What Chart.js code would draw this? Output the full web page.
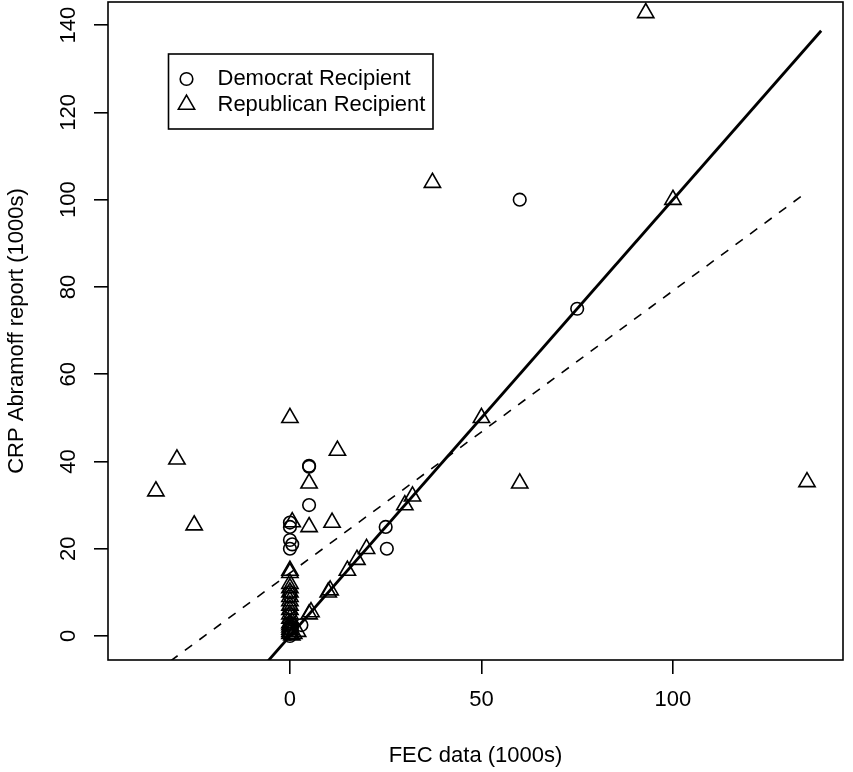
<!DOCTYPE html>
<html><head><meta charset="utf-8">
<script src="https://cdn.jsdelivr.net/npm/chart.js@4.4.0/dist/chart.umd.min.js"></script>
<style>html,body{margin:0;padding:0;background:#fff;}#wrap{width:853px;height:772px;}</style>
</head><body><div id="wrap"><canvas id="c" width="853" height="772"></canvas></div>
<script>
// ---- data ----
const demX = [60, 75, 25, 25.3, 5, 5, 5, 0, 0, 0, 0.6, 0, 0, 0, 0, 0, 0, 0, 0, 0.5, 3, 0];
const demY = [100, 75, 25, 20, 39, 38.8, 30, 26, 25, 22, 21, 20, 9, 6.5, 5, 3, 1.5, 0.5, 10, 2, 2.5, 0];
const repX = [-35, -29.5, -25, 92.9, 37.2, 100, 135, 50, 60, 32, 30, 20, 17.5, 15, 10, 10.5, 5, 5.5, 0, 12.4, 5, 5, 11, 0.6,
  0, 0, 0, 0, 0, 0, 0, 0, 0, 0, 0, 0, 0, 0, 0, 0, 0, 0.5, 1, 2];
const repY = [33.2, 40.5, 25.4, 142.8, 103.9, 100, 35.3, 50, 35, 32, 30, 20, 17.5, 15, 10, 10.5, 5, 5.5, 50, 42.5, 35, 25, 26, 26.1,
  15, 14.5, 12, 11, 10, 9, 8, 7, 6, 5, 4, 3, 2.5, 2, 1.5, 1, 0.5, 0.2, 0.5, 1];
const solidX = [-10, 138.7];
const solidY = [-10, 138.7];
const dashX = [-35, 134];
const dashY = [-8.2, 101.1];
const xTicks = [0, 50, 100];
const yTicks = [0, 20, 40, 60, 80, 100, 120, 140];
const legendLabels = ['Democrat Recipient', 'Republican Recipient'];
const xTitle = 'FEC data (1000s)';
const yTitle = 'CRP Abramoff report (1000s)';

// ---- styles ----
const FAM = "'Liberation Sans', Arial, Helvetica, sans-serif";
const FONT = {family: FAM, size: 22};
const LW = 1.6;
const pts = (xs, ys) => xs.map((x, i) => ({x: x, y: ys[i]}));

const boxPlugin = {
  id: 'rbox',
  afterDatasetsDraw(chart) {
    const a = chart.chartArea, c = chart.ctx;
    c.save();
    c.strokeStyle = '#000'; c.lineWidth = LW;
    c.strokeRect(a.left, a.top, a.right - a.left, a.bottom - a.top);
    // legend
    const bx = a.left + 60.5, by = a.top + 52, bw = 264.5, bh = 75;
    c.strokeRect(bx, by, bw, bh);
    const rows = [by + 25, by + 50.5];
    c.beginPath(); c.arc(bx + 18, rows[0], 6.3, 0, Math.PI * 2); c.stroke();
    const r = 9.4, tx = bx + 18, ty = rows[1];
    c.beginPath();
    c.moveTo(tx, ty - r);
    c.lineTo(tx + r * Math.sin(2 * Math.PI / 3), ty - r * Math.cos(2 * Math.PI / 3));
    c.lineTo(tx + r * Math.sin(4 * Math.PI / 3), ty - r * Math.cos(4 * Math.PI / 3));
    c.closePath(); c.stroke();
    c.fillStyle = '#000';
    c.font = '22px ' + FAM;
    c.textAlign = 'left'; c.textBaseline = 'middle';
    c.fillText(legendLabels[0], bx + 49, rows[0]);
    c.fillText(legendLabels[1], bx + 49, rows[1]);
    c.restore();
  }
};

new Chart(document.getElementById('c'), {
  type: 'scatter',
  data: {
    datasets: [
      {label: legendLabels[0], data: pts(demX, demY), pointStyle: 'circle', pointRadius: 6.3,
        borderColor: '#000', backgroundColor: 'rgba(0,0,0,0)', borderWidth: LW, pointBorderWidth: LW},
      {label: legendLabels[1], data: pts(repX, repY), pointStyle: 'triangle', pointRadius: 9.4,
        borderColor: '#000', backgroundColor: 'rgba(0,0,0,0)', borderWidth: LW, pointBorderWidth: LW},
      {type: 'line', label: 'fit1', data: pts(solidX, solidY), borderColor: '#000', borderWidth: 2.8,
        pointRadius: 0, fill: false, tension: 0},
      {type: 'line', label: 'fit2', data: pts(dashX, dashY), borderColor: '#000', borderWidth: LW,
        borderDash: [9, 9], pointRadius: 0, fill: false, tension: 0}
    ]
  },
  options: {
    responsive: false, animation: false, events: [],
    layout: {autoPadding: false, padding: {top: 2, right: 10, left: 0, bottom: 0}},
    plugins: {legend: {display: false}, tooltip: {enabled: false}},
    scales: {
      x: {
        type: 'linear', min: -47.5, max: 144.4,
        afterBuildTicks: s => { s.ticks = xTicks.map(v => ({value: v})); },
        afterFit: s => { s.height = 112; s.paddingLeft = 0; s.paddingRight = 0; },
        grid: {drawOnChartArea: false, drawTicks: true, tickLength: 14, color: '#000', lineWidth: LW},
        border: {display: false},
        ticks: {color: '#000', font: FONT, padding: 13, maxRotation: 0, minRotation: 0, autoSkip: false},
        title: {display: true, text: xTitle, color: '#000', font: FONT, padding: {top: 0, bottom: 3}}
      },
      y: {
        type: 'linear', min: -5.5, max: 145.3,
        afterBuildTicks: s => { s.ticks = yTicks.map(v => ({value: v})); },
        afterFit: s => { s.width = 108; s.paddingTop = 0; s.paddingBottom = 0; },
        grid: {drawOnChartArea: false, drawTicks: true, tickLength: 14, color: '#000', lineWidth: LW},
        border: {display: false},
        ticks: {color: '#000', font: FONT, padding: 7, minRotation: 90, maxRotation: 90, crossAlign: 'center', autoSkip: false},
        title: {display: true, text: yTitle, color: '#000', font: FONT, padding: {top: 4, bottom: 0}}
      }
    }
  },
  plugins: [boxPlugin]
});
</script>
</body></html>
